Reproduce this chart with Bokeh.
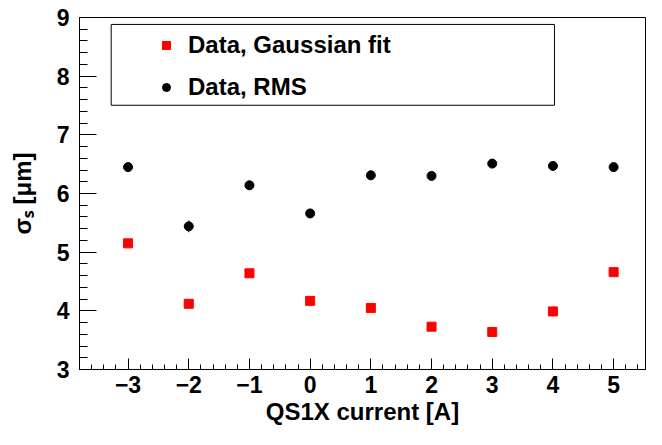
import numpy as np
from bokeh.plotting import figure
from bokeh.models import (Range1d, SingleIntervalTicker, CustomJSTickFormatter,
                          BoxAnnotation, Legend, LegendItem, Whisker, ColumnDataSource)
from bokeh.embed import file_html
from bokeh.resources import INLINE

# ---- data ----
current = [-3, -2, -1, 0, 1, 2, 3, 4, 5]
sigma_gauss = [5.15, 4.12, 4.64, 4.17, 4.05, 3.73, 3.64, 3.99, 4.66]
gauss_err = [0.03, 0.03, 0.03, 0.03, 0.03, 0.03, 0.03, 0.03, 0.03]
sigma_rms = [6.45, 5.44, 6.14, 5.66, 6.31, 6.30, 6.51, 6.47, 6.45]
rms_err = [0.04, 0.10, 0.04, 0.04, 0.04, 0.04, 0.04, 0.04, 0.04]
series_labels = ["Data, Gaussian fit", "Data, RMS"]
x_title = "QS1X current [A]"
y_title = "σₛ [μm]"

FONT = "Liberation Sans"

p = figure(width=646, height=429, output_backend="svg", toolbar_location=None,
           x_range=Range1d(-3.8, 5.525), y_range=Range1d(3, 9))
p.min_border_left = 79
p.min_border_right = 1
p.min_border_top = 17
p.min_border_bottom = 60
p.background_fill_color = "white"
p.border_fill_color = "white"
p.outline_line_color = "black"
p.outline_line_width = 1
p.outline_line_alpha = 1
p.xgrid.visible = False
p.ygrid.visible = False

fmt = CustomJSTickFormatter(code="return tick < 0 ? '\\u2212' + Math.abs(tick) : String(tick);")

p.xaxis.ticker = SingleIntervalTicker(interval=1, num_minor_ticks=5)
p.yaxis.ticker = SingleIntervalTicker(interval=1, num_minor_ticks=5)
for ax in (p.xaxis, p.yaxis):
    ax.formatter = fmt
    ax.major_tick_out = 0
    ax.minor_tick_out = 0
    ax.axis_line_color = "black"
    ax.major_tick_line_color = "black"
    ax.minor_tick_line_color = "black"
    ax.major_label_text_font = FONT
    ax.major_label_text_font_style = "bold"
    ax.major_label_text_font_size = "23px"
    ax.major_label_text_color = "black"
    ax.axis_label_text_font = FONT
    ax.axis_label_text_font_style = "bold"
    ax.axis_label_text_font_size = "24px"
    ax.axis_label_text_color = "black"
p.xaxis.major_tick_in = 11
p.xaxis.minor_tick_in = 5
p.xaxis.major_label_standoff = 6
p.xaxis.axis_label = x_title
p.xaxis.axis_label_standoff = 2
p.yaxis.major_tick_in = 17
p.yaxis.minor_tick_in = 8
p.yaxis.major_label_standoff = 10
p.yaxis.axis_label = y_title
p.yaxis.axis_label_standoff = 18

# error bars
src_r = ColumnDataSource(dict(x=current, y=sigma_rms,
                              lo=[v - e for v, e in zip(sigma_rms, rms_err)],
                              hi=[v + e for v, e in zip(sigma_rms, rms_err)]))
src_g = ColumnDataSource(dict(x=current, y=sigma_gauss,
                              lo=[v - e for v, e in zip(sigma_gauss, gauss_err)],
                              hi=[v + e for v, e in zip(sigma_gauss, gauss_err)]))
for s, c in ((src_r, "black"), (src_g, "red")):
    w = Whisker(source=s, base="x", upper="hi", lower="lo", dimension="height",
                line_color=c, line_width=1, upper_head=None, lower_head=None)
    p.add_layout(w)

r_g = p.scatter("x", "y", source=src_g, marker="square", size=9,
                fill_color="red", line_color="red")
r_r = p.scatter("x", "y", source=src_r, marker="circle", size=9,
                fill_color="black", line_color="black")

# legend frame
p.add_layout(BoxAnnotation(left=-3.278, right=4.025, top=8.882, bottom=7.504,
                           fill_alpha=0, line_color="black", line_width=1, line_alpha=1))
legend = Legend(items=[LegendItem(label=series_labels[0], renderers=[r_g]),
                       LegendItem(label=series_labels[1], renderers=[r_r])],
                location=(71, 261), padding=6, spacing=12, margin=0,
                glyph_width=20, glyph_height=30, label_height=30, label_standoff=12,
                border_line_alpha=0, background_fill_alpha=0,
                label_text_font=FONT, label_text_font_style="bold",
                label_text_font_size="24px", label_text_color="black")
p.add_layout(legend)

open("out.html", "w").write(file_html(p, INLINE))
